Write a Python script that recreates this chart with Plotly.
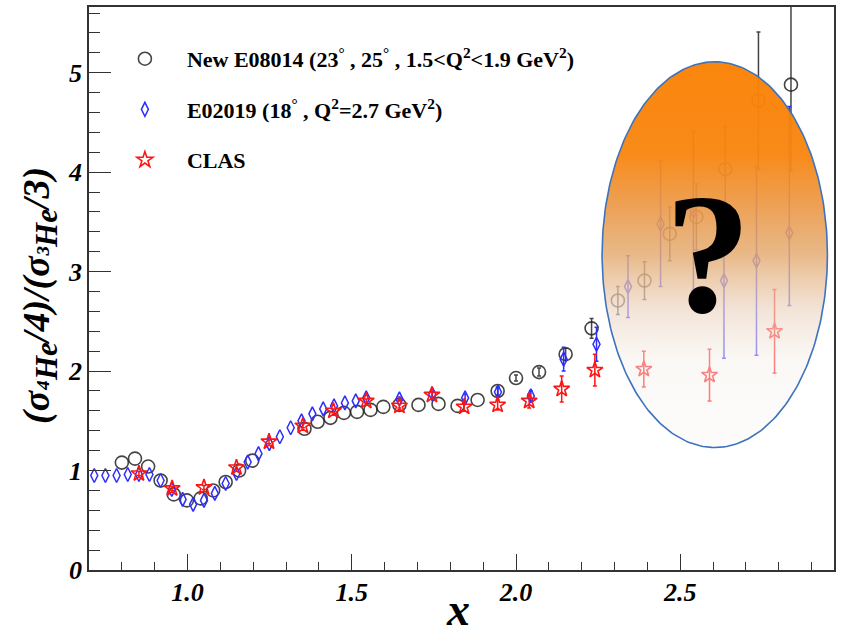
import numpy as np
import plotly.graph_objects as go

nan = np.nan

# ---- E08014 (new, 23 and 25 degrees) ----
e08_x = [0.800, 0.840, 0.880, 0.918, 0.958, 0.998, 1.040, 1.078, 1.116, 1.157, 1.197,
         1.356, 1.396, 1.435, 1.476, 1.516, 1.557, 1.596, 1.645, 1.703, 1.764, 1.822,
         1.883, 1.944, 2.000, 2.070, 2.151, 2.230, 2.310, 2.391, 2.468, 2.549, 2.637,
         2.738, 2.837]
e08_y = [1.08, 1.12, 1.04, 0.90, 0.76, 0.70, 0.72, 0.80, 0.885, 1.00, 1.10,
         1.42, 1.49, 1.53, 1.58, 1.59, 1.61, 1.64, 1.66, 1.66, 1.67, 1.65,
         1.71, 1.80, 1.93, 1.99, 2.17, 2.43, 2.71, 2.91, 3.38, 3.55, 4.03,
         4.72, 4.88]
# nan = error smaller than the marker (no bar drawn)
e08_err = [nan] * 23 + [0.04, 0.03, 0.04, 0.06, 0.10, 0.14, 0.19, 0.27, 0.33, 0.43,
                        0.69, 0.87]

# ---- E02019 (18 degrees) ----
e02_x = [0.716, 0.750, 0.784, 0.818, 0.852, 0.884, 0.918, 0.952, 0.985, 1.017, 1.050,
         1.083, 1.116, 1.149, 1.183, 1.216, 1.249, 1.281, 1.314, 1.347, 1.380, 1.413,
         1.446, 1.479, 1.512, 1.544, 1.645, 1.745, 1.845, 1.945, 2.045, 2.145, 2.245,
         2.341, 2.440, 2.540, 2.633, 2.732, 2.832]
e02_y = [0.95, 0.95, 0.95, 0.96, 0.96, 0.96, 0.90, 0.81, 0.71, 0.66, 0.70,
         0.77, 0.87, 0.97, 1.085, 1.17, 1.27, 1.34, 1.43, 1.50, 1.57, 1.62,
         1.65, 1.68, 1.70, 1.73, 1.72, 1.77, 1.73, 1.79, 1.75, 2.12, 2.27,
         2.85, 3.48, 3.61, 2.91, 3.11, 3.39]
e02_err_up = [nan] * 26 + [0.02, 0.03, 0.04, 0.04, 0.05, 0.12, 0.17,
                           0.31, 0.63, 0.80, 0.78, 0.95, 1.27]
e02_err_dn = [nan] * 26 + [0.02, 0.03, 0.04, 0.04, 0.05, 0.12, 0.17,
                           0.31, 0.63, 0.80, 0.78, 0.95, 0.73]

# ---- CLAS ----
clas_x = [0.852, 0.953, 1.050, 1.149, 1.248, 1.351, 1.444, 1.544, 1.645, 1.744,
          1.842, 1.944, 2.040, 2.139, 2.240, 2.389, 2.589, 2.787]
clas_y = [0.97, 0.82, 0.83, 1.03, 1.29, 1.45, 1.60, 1.70, 1.65, 1.76,
          1.64, 1.66, 1.70, 1.82, 2.01, 2.02, 1.96, 2.40]
clas_err = [0.02, 0.02, 0.02, 0.02, 0.02, 0.02, 0.02, 0.02, 0.02, 0.03,
            0.04, 0.05, 0.07, 0.13, 0.16, 0.18, 0.26, 0.42]

# highlighted region (ellipse) in data units
ell_cx, ell_cy, ell_a, ell_b = 2.605, 3.171, 0.343, 1.939

SERIF = "Liberation Serif"
NB = "\u00a0" * 4

fig = go.Figure()

fig.add_trace(go.Scatter(
    x=e08_x, y=e08_y, mode="markers",
    name=NB + "New E08014 (23<sup>°</sup> , 25<sup>°</sup> , 1.5&lt;Q<sup>2</sup>&lt;1.9 GeV<sup>2</sup>)",
    legendgroup="a",
    marker=dict(symbol="circle-open", size=13, color="rgba(35,35,35,0.85)",
                line=dict(width=1.6)),
    error_y=dict(type="data", array=np.array(e08_err), color="rgba(35,35,35,0.85)",
                 thickness=1.5, width=2),
))
fig.add_trace(go.Scatter(
    x=e02_x, y=e02_y, mode="markers",
    name=NB + "E02019 (18<sup>°</sup> , Q<sup>2</sup>=2.7 GeV<sup>2</sup>)",
    legendgroup="b",
    marker=dict(symbol="diamond-tall-open", size=10, color="rgb(45,45,255)",
                line=dict(width=1.5)),
    error_y=dict(type="data", symmetric=False, array=np.array(e02_err_up),
                 arrayminus=np.array(e02_err_dn),
                 color="rgb(45,45,255)", thickness=1.5, width=2),
))
fig.add_trace(go.Scatter(
    x=clas_x, y=clas_y, mode="markers",
    name=NB + "CLAS",
    legendgroup="c",
    marker=dict(symbol="star-open", size=12, color="rgb(255,20,20)",
                line=dict(width=1.6)),
    error_y=dict(type="data", array=clas_err, color="rgb(255,20,20)",
                 thickness=1.5, width=2),
))

# translucent orange ellipse over the high-x region
t = np.linspace(0, 2 * np.pi, 241)
fig.add_trace(go.Scatter(
    x=ell_cx + ell_a * np.cos(t), y=ell_cy + ell_b * np.sin(t),
    mode="lines", fill="toself", showlegend=False, hoverinfo="skip",
    line=dict(color="rgb(60,115,190)", width=1.6),
    fillgradient=dict(
        type="vertical",
        colorscale=[[0.0, "rgba(250,248,246,0.40)"],
                    [0.22, "rgba(246,241,236,0.50)"],
                    [0.36, "rgba(236,214,195,0.68)"],
                    [0.50, "rgba(228,172,115,0.85)"],
                    [0.63, "rgba(236,152,70,0.92)"],
                    [0.76, "rgba(248,134,16,0.96)"],
                    [1.0, "rgba(250,130,5,0.97)"]],
    ),
))

fig.add_annotation(x=2.585, y=3.18, text="?", showarrow=False,
                   font=dict(family=SERIF, size=172, color="black", weight="bold"),
                   xanchor="center", yanchor="middle")

# axis titles
ytitle = ("(σ<sub><span style='font-size:31px'>⁴He</span></sub>/4)/"
          "(σ<sub><span style='font-size:31px'>³He</span></sub>/3)")
fig.add_annotation(xref="paper", yref="paper", x=-(89 - 40) / 747, y=0.487, textangle=-90,
                   text=ytitle, showarrow=False,
                   xanchor="center", yanchor="middle",
                   font=dict(family=SERIF, size=38, color="black",
                             weight="bold", style="italic"))
fig.add_annotation(xref="paper", yref="paper", x=(459 - 89) / 747, y=-(637 - 570) / 565,
                   text="x", showarrow=False, xanchor="center", yanchor="bottom",
                   font=dict(family=SERIF, size=46, color="black",
                             weight="bold", style="italic"))

tickfont = dict(family=SERIF, size=26, color="black", weight="bold", style="italic")

fig.update_xaxes(
    range=[0.70, 2.968], showgrid=False, zeroline=False,
    showline=True, linecolor="#333", linewidth=1.5, mirror=True,
    ticks="inside", ticklen=16, tickwidth=1.3, tickcolor="#333",
    tick0=0, dtick=0.5, tickformat=".1f", tickfont=tickfont,
    ticklabelstandoff=-2,
    minor=dict(ticks="inside", ticklen=8, tickwidth=1.2, tickcolor="#333", dtick=0.1, tick0=0),
)
fig.update_yaxes(
    range=[0, 5.661], showgrid=False, zeroline=False,
    showline=True, linecolor="#333", linewidth=1.5, mirror=True,
    ticks="inside", ticklen=22, tickwidth=1.3, tickcolor="#333",
    tick0=0, dtick=1, tickfont=tickfont, ticklabelstandoff=0,
    minor=dict(ticks="inside", ticklen=11, tickwidth=1.2, tickcolor="#333", dtick=0.2, tick0=0),
)

fig.update_layout(
    width=841, height=638,
    margin=dict(l=89, r=5, t=5, b=68),
    paper_bgcolor="white", plot_bgcolor="white",
    showlegend=True,
    legend=dict(x=(125 - 89) / 747, y=(570 - 36) / 565, xanchor="left", yanchor="top",
                bgcolor="rgba(0,0,0,0)", traceorder="grouped", tracegroupgap=19,
                font=dict(family=SERIF, size=22, color="black", weight="bold")),
)

fig.write_html("out.html")
